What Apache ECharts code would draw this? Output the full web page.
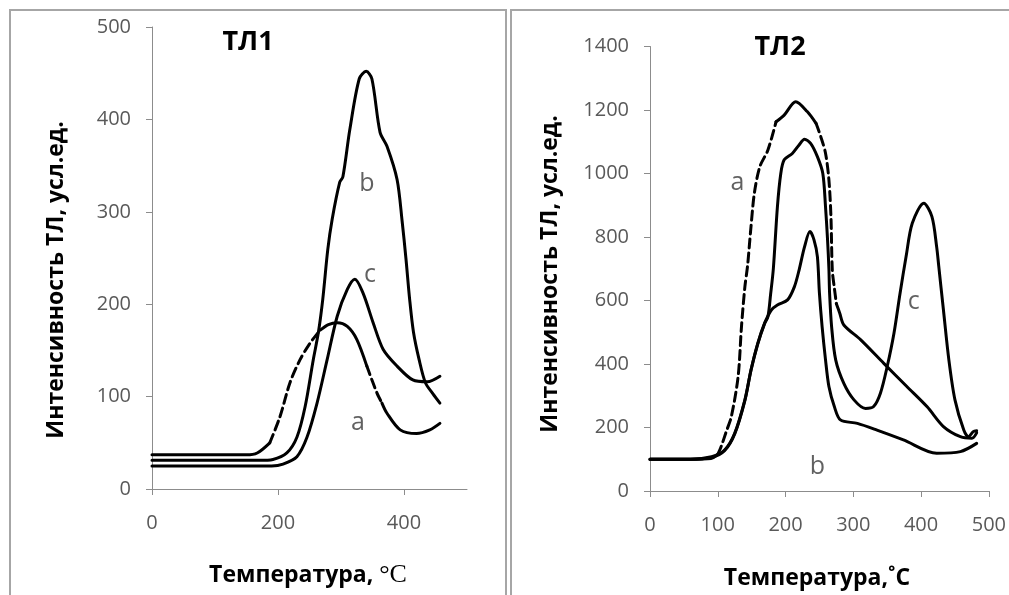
<!DOCTYPE html>
<html>
<head>
<meta charset="utf-8">
<script src="https://cdn.jsdelivr.net/npm/echarts@6/dist/echarts.min.js"></script>
<style>
html,body{margin:0;padding:0;background:#fff;}
#c{width:1009px;height:595px;}
</style>
</head>
<body>
<div id="c"></div>
<script>
// ---------- DATA ----------
// Panel ТЛ1 : [температура, интенсивность]
const TL1_A = [[0,37],[100,37],[150,37],[167,39],[187,50],[203,78],[219,115],[235,140],[251,158],[267,172],[280,178],[294,180],[310,176],[325,162],[341,133],[357,104],[365,93],[373,82],[394,64],[420,60],[441,64],[457,71]];
const TL1_B = [[0,31],[100,31],[170,31],[192,32],[214,39],[230,56],[243,89],[256,140],[264,169],[271,205],[279,259],[286,292],[298,332],[303,338],[314,389],[329,444],[340,452],[349,444],[362,386],[373,371],[389,335],[397,290],[403,250],[409,205],[415,170],[424,140],[434,115],[446,103],[457,93]];
const TL1_C = [[0,25],[100,25],[190,25],[208,27],[230,35],[246,56],[262,93],[278,140],[294,187],[310,216],[322,227],[335,212],[351,180],[367,151],[389,133],[414,118],[437,116],[457,122]];
// Panel ТЛ2
const TL2_A = [[0,100],[60,100],[90,102],[100,115],[105,140],[113,190],[120,234],[130,360],[135,518],[140,643],[144,710],[149,832],[154,938],[162,1021],[174,1074],[186,1163],[198,1184],[215,1226],[232,1195],[245,1158],[252,1116],[259,1064],[264,980],[267,864],[269,696],[272,640],[275,590],[280,560],[286,523],[311,476],[345,402],[379,329],[409,265],[433,203],[458,171],[475,166],[482,183]];
const TL2_B = [[0,100],[60,100],[91,108],[110,129],[125,182],[140,287],[149,381],[159,465],[169,528],[179,570],[188,586],[203,602],[213,643],[220,696],[228,769],[236,817],[242,791],[247,738],[250,623],[254,517],[259,413],[264,329],[272,266],[281,224],[306,213],[335,192],[374,161],[423,119],[458,124],[482,150]];
const TL2_C = [[0,100],[60,100],[91,106],[110,127],[125,180],[140,285],[149,380],[159,463],[169,527],[174,549],[178,620],[182,700],[188,895],[193,1000],[198,1043],[210,1063],[220,1090],[228,1108],[237,1095],[247,1053],[255,1000],[259,895],[262,791],[264,700],[265,623],[268,517],[274,413],[286,339],[301,287],[318,260],[330,266],[340,308],[350,392],[360,497],[369,623],[378,740],[387,843],[404,906],[416,864],[423,769],[426,710],[433,570],[441,413],[450,287],[463,192],[470,171],[477,187],[482,190]];
// curve letters [x, y, letter]
const TL1_LABELS = [[341,330,'b'],[346,232,'c'],[327,72,'a']];
const TL2_LABELS = [[129,970,'a'],[247,76,'b'],[389,595,'c']];
// axis tick values
const TL1_XTICKS = [0,200,400];
const TL2_XTICKS = [0,100,200,300,400,500];
// dashed x-ranges of curve "a"
const TL1_A_DASH = [[187,267],[341,365]];
const TL2_A_DASH = [[100,186],[245,275]];

// ---------- BUILD ----------
function splitByRanges(data, ranges){
  const bounds = [];
  ranges.forEach(r=>{bounds.push(r[0]); bounds.push(r[1]);});
  const segs = [];
  let cur = [], dashed = false, bi = 0;
  data.forEach(p=>{
    cur.push(p);
    if (bi < bounds.length && p[0] === bounds[bi]) {
      if (cur.length > 1) segs.push({pts:cur, dashed:dashed});
      cur = [p]; dashed = !dashed; bi++;
    }
  });
  if (cur.length > 1) segs.push({pts:cur, dashed:dashed});
  return segs;
}
function lineSeries(data, gi, dashed){
  return {type:'line', xAxisIndex:gi, yAxisIndex:gi, data:data, showSymbol:false, symbol:'none',
    smooth:0.3, lineStyle:{color:'#000', width:3, type: dashed ? [9,5] : 'solid', cap:'round', join:'round'},
    silent:true, animation:false, z:3};
}
function labelSeries(lbls, gi){
  return {type:'scatter', xAxisIndex:gi, yAxisIndex:gi, symbolSize:0, silent:true, animation:false,
    data: lbls.map(l=>({value:[l[0],l[1]], name:l[2]})),
    label:{show:true, position:'inside', formatter:p=>p.name, fontFamily:'Open Sans', fontSize:25, color:'#3a3a3a'}};
}
const series = [];
splitByRanges(TL1_A, TL1_A_DASH).forEach(s=>series.push(lineSeries(s.pts,0,s.dashed)));
series.push(lineSeries(TL1_B,0,false));
series.push(lineSeries(TL1_C,0,false));
splitByRanges(TL2_A, TL2_A_DASH).forEach(s=>series.push(lineSeries(s.pts,1,s.dashed)));
series.push(lineSeries(TL2_B,1,false));
series.push(lineSeries(TL2_C,1,false));
series.push(labelSeries(TL1_LABELS,0));
series.push(labelSeries(TL2_LABELS,1));

const axLine = {show:true, lineStyle:{color:'#8c8c8c', width:1}};
const tickFont = {fontFamily:'Open Sans', fontSize:20, color:'#595959', formatter:v=>String(v)};
function xAxis(gi, max, ticks){
  return {type:'value', gridIndex:gi, min:0, max:max, interval:100,
    axisLine:Object.assign({onZero:false}, axLine),
    axisTick:{show:true, length:6, inside:false, customValues:ticks, lineStyle:{color:'#8c8c8c'}},
    axisLabel:Object.assign({margin:24, customValues:ticks}, tickFont),
    splitLine:{show:false}};
}
function yAxis(gi, max, itv){
  return {type:'value', gridIndex:gi, min:0, max:max, interval:itv,
    axisLine:axLine, axisTick:{show:true, length:6, lineStyle:{color:'#8c8c8c'}},
    axisLabel:Object.assign({margin:21}, tickFont), splitLine:{show:false}};
}
const titleFont = {fontFamily:'Open Sans', fontWeight:'bold', fontSize:23, fill:'#000'};
const option = {
  backgroundColor:'#fff',
  animation:false,
  grid:[{left:152, top:27, width:315, height:462},{left:650, top:46.5, width:340.5, height:444.5}],
  xAxis:[xAxis(0,500,TL1_XTICKS), xAxis(1,500,TL2_XTICKS)],
  yAxis:[yAxis(0,500,100), yAxis(1,1400,200)],
  series:series,
  graphic:[
    {type:'rect', shape:{x:10,y:10,width:496,height:600}, style:{fill:'none', stroke:'#a6a6a6', lineWidth:2}, z:-1},
    {type:'rect', shape:{x:511,y:10,width:500,height:600}, style:{fill:'none', stroke:'#a6a6a6', lineWidth:2}, z:-1},
    {type:'text', x:248, y:42, style:{text:'ТЛ1', fontFamily:'Open Sans', fontWeight:'bold', fontSize:27, fill:'#000', align:'center', verticalAlign:'middle'}},
    {type:'text', x:780, y:47, style:{text:'ТЛ2', fontFamily:'Open Sans', fontWeight:'bold', fontSize:27, fill:'#000', align:'center', verticalAlign:'middle'}},
    {type:'text', x:56, y:280, rotation:Math.PI/2, style:Object.assign({text:'Интенсивность ТЛ, усл.ед.', align:'center', verticalAlign:'middle'}, titleFont)},
    {type:'text', x:550, y:274, rotation:Math.PI/2, style:Object.assign({text:'Интенсивность ТЛ, усл.ед.', align:'center', verticalAlign:'middle'}, titleFont)},
    {type:'text', x:308, y:575, style:{text:'{a|Температура, }{b|°C}', align:'center', verticalAlign:'middle',
      rich:{a:{fontFamily:'Open Sans', fontWeight:'bold', fontSize:23, fill:'#000'}, b:{fontFamily:'Liberation Serif', fontWeight:'normal', fontSize:26, fill:'#000'}}}},
    {type:'text', x:817, y:578, style:Object.assign({text:'Температура,˚C', align:'center', verticalAlign:'middle'}, titleFont)}
  ]
};
const chart = echarts.init(document.getElementById('c'), null, {renderer:'canvas'});
chart.setOption(option);
</script>
</body>
</html>
